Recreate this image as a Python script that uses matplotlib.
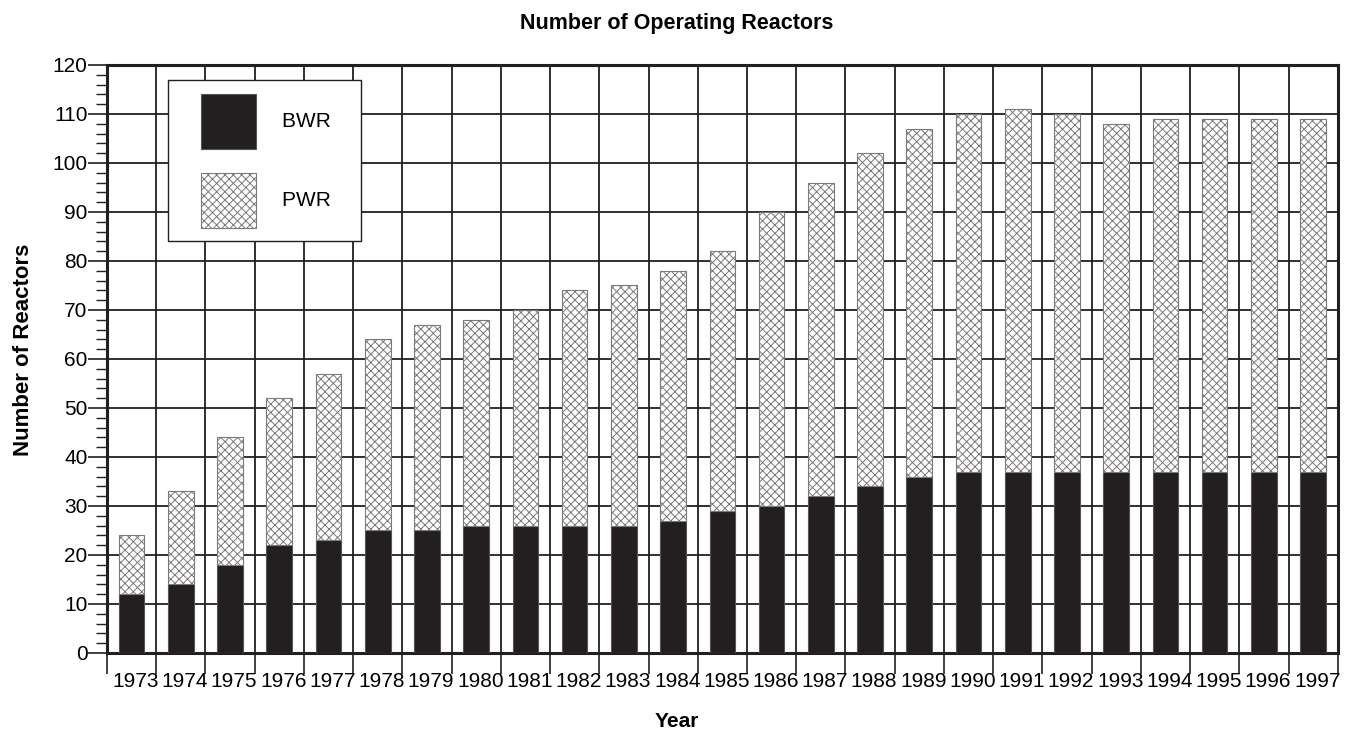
import matplotlib.pyplot as plt
import matplotlib.transforms as mtransforms
from matplotlib.legend_handler import HandlerPatch
from matplotlib.container import BarContainer
from matplotlib.ticker import MultipleLocator

years = list(range(1973, 1998))
bwr = [12, 14, 18, 22, 23, 25, 25, 26, 26, 26, 26, 27, 29, 30, 32, 34, 36, 37, 37, 37, 37, 37, 37, 37, 37]
total = [24, 33, 44, 52, 57, 64, 67, 68, 70, 74, 75, 78, 82, 90, 96, 102, 107, 110, 111, 110, 108, 109, 109, 109, 109]
pwr = [t - b for t, b in zip(total, bwr)]
series_names = ['BWR', 'PWR']

plt.rcParams['font.family'] = ['Liberation Sans', 'DejaVu Sans']
plt.rcParams['hatch.linewidth'] = 0.7

dark = '#231f20'
fig = plt.figure(figsize=(13.54, 7.40), dpi=100)
ax = fig.add_axes([0.079, 0.1176, 0.909, 0.7946])

x = list(range(len(years)))
b1 = ax.bar(x, bwr, width=0.52, color=dark, edgecolor='#555555', linewidth=0.8, zorder=3)
b2 = ax.bar(x, pwr, bottom=bwr, width=0.52, color='white', edgecolor='#7a7a7a',
            hatch='xxxx', linewidth=0.8, zorder=3)

ax.set_xlim(-0.5, len(years) - 0.5)
ax.set_ylim(0, 120)

# grid lines on the cell boundaries, labels centred in the cells
ax.set_xticks([i - 0.5 for i in range(len(years) + 1)])
ax.set_xticklabels([])
ax.set_xticks(x, minor=True)
ax.set_xticklabels([str(y) for y in years], minor=True, fontsize=15)
ax.tick_params(axis='x', which='major', length=15, width=1.2, color=dark, direction='out')
ax.tick_params(axis='x', which='minor', length=0, pad=14)
shift = mtransforms.ScaledTranslation(4 / 100, 0, fig.dpi_scale_trans)
for lab in ax.get_xticklabels(minor=True):
    lab.set_transform(lab.get_transform() + shift)

ax.yaxis.set_major_locator(MultipleLocator(10))
ax.yaxis.set_minor_locator(MultipleLocator(2))
ax.tick_params(axis='y', which='major', length=14, width=1.2, color=dark, labelsize=15, pad=0)
ax.tick_params(axis='y', which='minor', length=8, width=1.0, color=dark)

ax.grid(True, which='major', color=dark, linewidth=1.3, zorder=1)
ax.set_axisbelow(True)
for s in ax.spines.values():
    s.set_linewidth(2.2)
    s.set_color(dark)


def first_bar(legend_patch, container):
    legend_patch.update_from(container.patches[0])


# big square legend keys, pushed in from the left edge of the box;
# trailing spaces keep some room right of the labels
hp = HandlerPatch(xpad=0.95, update_func=first_bar)
leg = ax.legend([b1, b2], [n + '   ' for n in series_names],
                loc='upper left', bbox_to_anchor=(0.0496, 0.9745), fontsize=15,
                handlelength=3.55, handleheight=3.7, labelspacing=1.15,
                handletextpad=1.25, borderpad=0.65, borderaxespad=0,
                fancybox=False, framealpha=1, edgecolor=dark,
                handler_map={BarContainer: hp})
leg.get_frame().set_linewidth(1.0)
leg.set_zorder(5)

fig.text(0.5, 0.968, 'Number of Operating Reactors', ha='center', va='center',
         fontsize=15.5, fontweight='bold')
fig.text(0.5, 0.025, 'Year', ha='center', va='center',
         fontsize=15, fontweight='bold')
fig.text(0.017, 0.527, 'Number of Reactors', ha='center', va='center', rotation=90,
         fontsize=16, fontweight='bold')

fig.savefig('out.png', dpi=100)
